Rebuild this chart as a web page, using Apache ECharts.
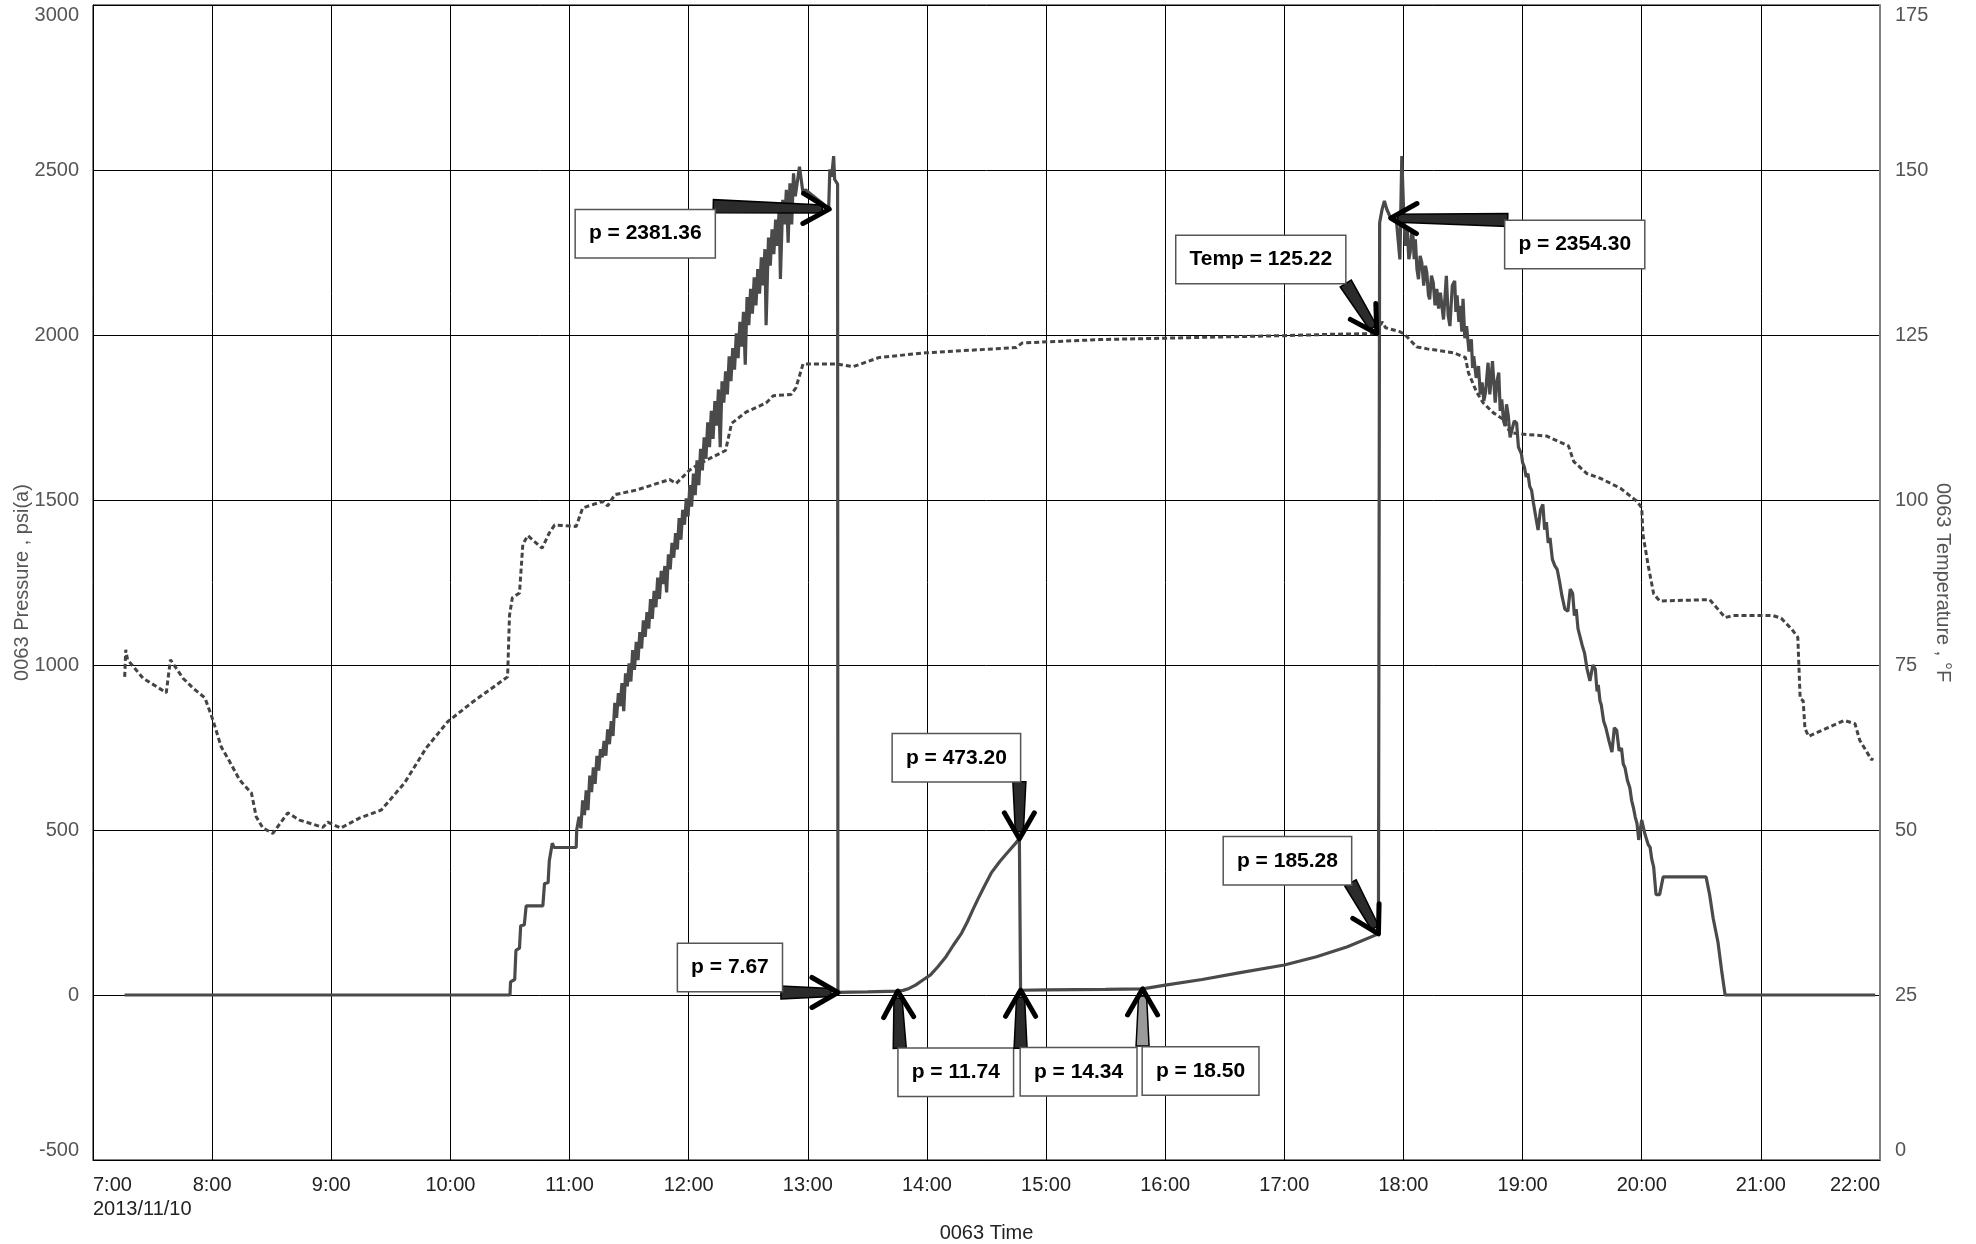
<!DOCTYPE html>
<html>
<head>
<meta charset="utf-8">
<script src="https://cdn.jsdelivr.net/npm/echarts@6/dist/echarts.min.js"></script>
<style>
html,body{margin:0;padding:0;background:#fff;}
#chart{width:1976px;height:1244px;}
</style>
</head>
<body>
<div id="chart"></div>
<script>
// ---------- DATA ----------
const xTickLabels = ['7:00\n2013/11/10','8:00','9:00','10:00','11:00','12:00','13:00','14:00','15:00','16:00','17:00','18:00','19:00','20:00','21:00','22:00'];

// Pressure (psi(a)) : time in decimal hours
const pressureHours = [
  7.265, 8.0, 9.0, 10.0, 10.5, 10.505, 10.54, 10.55, 10.58, 10.59, 10.62, 10.636, 10.776, 10.79, 10.82, 10.83, 10.855, 10.87, 11.056, 11.06,
  11.08, 11.095, 11.11, 11.125, 11.14, 11.155, 11.17, 11.185, 11.20, 11.215, 11.23, 11.245, 11.26, 11.275, 11.29, 11.305, 11.32, 11.335, 11.35, 11.365,
  11.38, 11.395, 11.41, 11.425, 11.44, 11.455, 11.47, 11.485, 11.50, 11.515, 11.53, 11.545, 11.56, 11.575, 11.59, 11.605, 11.62, 11.635, 11.65, 11.665,
  11.68, 11.695, 11.71, 11.725, 11.74, 11.755, 11.77, 11.785, 11.80, 11.815, 11.83, 11.845, 11.86, 11.875, 11.89, 11.905, 11.92, 11.935, 11.95, 11.965,
  11.98, 11.995, 12.01, 12.025, 12.04, 12.055, 12.07, 12.085, 12.10, 12.115, 12.13, 12.145, 12.16, 12.175, 12.19, 12.205, 12.22, 12.235, 12.25, 12.265,
  12.28, 12.295, 12.31, 12.325, 12.34, 12.355, 12.37, 12.385, 12.40, 12.415, 12.43, 12.445, 12.46, 12.475, 12.49, 12.505, 12.52, 12.535, 12.55, 12.565,
  12.58, 12.595, 12.61, 12.625, 12.64, 12.65, 12.67, 12.685, 12.70, 12.715, 12.73, 12.745, 12.76, 12.77, 12.79, 12.805, 12.82, 12.835, 12.85, 12.865,
  12.88, 12.895, 12.93, 12.96, 12.98, 13.05, 13.12, 13.175, 13.185, 13.20, 13.217, 13.225, 13.25, 13.253,
  13.5, 13.755, 13.80, 13.85, 13.904, 13.96, 14.03, 14.09, 14.16, 14.22, 14.29, 14.34, 14.385, 14.43, 14.48, 14.54, 14.61, 14.66, 14.706, 14.74, 14.776,
  14.786, 15.0, 15.5, 15.81, 16.0, 16.31, 16.63, 17.0, 17.27, 17.53, 17.79,
  17.80, 17.82, 17.84, 17.86, 17.893, 17.94, 17.97, 17.986,
  18.0, 18.015, 18.03, 18.045, 18.056, 18.07, 18.08, 18.09, 18.1, 18.113, 18.126, 18.14, 18.154, 18.17, 18.185, 18.196, 18.21, 18.22, 18.235, 18.25,
  18.265, 18.28, 18.295, 18.31, 18.336, 18.36, 18.375, 18.39, 18.41, 18.43, 18.44, 18.45, 18.465, 18.475, 18.49, 18.50, 18.515, 18.53, 18.55, 18.57,
  18.58, 18.59, 18.61, 18.63, 18.645, 18.66, 18.675, 18.69, 18.71, 18.725, 18.747, 18.77, 18.785, 18.8, 18.812, 18.825, 18.84, 18.853, 18.865, 18.88,
  18.895, 18.91, 18.93, 18.95, 18.965, 18.98, 18.99, 19.0, 19.015, 19.03, 19.045, 19.06, 19.075, 19.09, 19.11, 19.13, 19.15, 19.17, 19.185, 19.2,
  19.215, 19.23, 19.25, 19.27, 19.29, 19.31, 19.33, 19.355, 19.38, 19.40, 19.42, 19.435, 19.45, 19.465, 19.48, 19.50, 19.52, 19.54, 19.565, 19.59,
  19.61, 19.625, 19.635, 19.65, 19.66, 19.68, 19.7, 19.725, 19.75, 19.77, 19.79, 19.81, 19.83, 19.845, 19.86, 19.88, 19.9, 19.915, 19.93, 19.945,
  19.96, 19.975, 19.985, 20.0, 20.01, 20.025, 20.04, 20.055, 20.07, 20.085, 20.1, 20.12, 20.15, 20.18,
  20.54, 20.57, 20.6, 20.64, 20.67, 20.70, 21.0, 21.5, 21.96
];
const pressurePsi = [
  0, 0, 0, 0, 0, 40, 47, 135, 142, 210, 212, 270, 270, 338, 340, 406, 460, 447, 447, 500,
  540, 505, 590, 545, 620, 560, 665, 615, 690, 640, 725, 680, 745, 720, 770, 725, 805, 760, 830, 785,
  885, 840, 915, 875, 945, 860, 975, 935, 1005, 950, 1045, 985, 1070, 1015, 1100, 1050, 1135, 1085, 1160, 1110,
  1200, 1140, 1225, 1175, 1265, 1200, 1285, 1245, 1300, 1220, 1335, 1290, 1370, 1325, 1400, 1350, 1445, 1380, 1470, 1425,
  1505, 1450, 1545, 1480, 1580, 1515, 1620, 1545, 1655, 1590, 1690, 1625, 1735, 1660, 1770, 1685, 1800, 1725, 1835, 1660,
  1860, 1795, 1890, 1820, 1935, 1860, 1960, 1895, 2005, 1930, 2040, 1965, 2070, 1910, 2115, 2030, 2140, 2065, 2175, 2090,
  2200, 2125, 2235, 2150, 2260, 2030, 2295, 2210, 2320, 2245, 2350, 2270, 2385, 2170, 2410, 2335, 2440, 2280, 2460, 2335,
  2490, 2420, 2510, 2430, 2440, 2420, 2400, 2381.36, 2502, 2480, 2542, 2472, 2457, 7.67,
  9.5, 11.74, 14, 20, 30, 44, 61, 85, 116, 150, 187, 222, 258, 292, 328, 370, 404, 425, 444, 458, 473.2,
  14.34, 15.5, 17.2, 18.5, 30, 47, 68, 91, 116, 146, 185.28,
  2340, 2380, 2406, 2381, 2354.3, 2350, 2229, 2542,
  2391, 2270, 2330, 2230, 2250, 2320, 2300, 2230, 2290, 2200, 2169, 2240, 2219, 2150, 2210, 2189, 2120, 2108, 2180, 2159,
  2090, 2140, 2080, 2128, 2047, 2179, 2060, 2027, 2150, 2164, 2070, 2120, 2040, 2088, 2010, 2110, 1990, 2027, 1950, 1987,
  1900, 1936, 1870, 1906, 1820, 1856, 1800, 1830, 1916, 1820, 1921, 1795, 1860, 1886, 1770, 1805, 1740, 1724, 1790, 1755,
  1690, 1684, 1740, 1733, 1660, 1654, 1640, 1613, 1600, 1570, 1580, 1541, 1530, 1493, 1450, 1409, 1470, 1487, 1410, 1433,
  1370, 1385, 1320, 1301, 1290, 1253, 1210, 1169, 1163, 1230, 1217, 1150, 1169, 1110, 1108, 1060, 1036, 990, 952, 1000,
  988, 920, 940, 890, 880, 830, 808, 770, 736, 810, 802, 740, 748, 700, 688, 650, 628, 590, 568, 540,
  520, 470, 472, 530, 526, 490, 496, 455, 448, 410, 388, 304, 304, 358,
  358, 304, 232, 160, 76, 0, 0, 0, 0
];

// Temperature (°F)
const tempHours = [
  7.266, 7.275, 7.29, 7.42, 7.615, 7.65, 7.755, 7.84, 7.94, 8.006, 8.076, 8.146, 8.23, 8.33, 8.37, 8.426, 8.51, 8.635, 8.733, 8.93,
  8.97, 9.08, 9.236, 9.418, 9.614, 9.796, 9.977, 10.187, 10.48, 10.496, 10.52, 10.58, 10.608, 10.65, 10.77, 10.83, 10.874, 11.056, 11.11, 11.28,
  11.32, 11.38, 11.56, 11.84, 11.895, 12.007, 12.09, 12.2, 12.31, 12.36, 12.48, 12.65, 12.71, 12.86, 12.9, 12.96, 13.24, 13.38, 13.6, 13.99,
  14.75, 14.8, 15.45, 16.2, 17.0, 17.385, 17.776, 17.82, 17.85, 17.97, 18.01, 18.11, 18.2, 18.42, 18.52, 18.545, 18.615, 18.67, 18.755, 18.84,
  18.895, 18.98, 19.2, 19.385, 19.43, 19.54, 19.65, 19.82, 19.96, 20.0, 20.01, 20.055, 20.1, 20.15, 20.57, 20.70, 20.77, 21.1, 21.17, 21.26,
  21.31, 21.33, 21.355, 21.37, 21.40, 21.70, 21.79, 21.83, 21.93, 21.94
];
const tempF = [
  73.2, 77.3, 75.8, 73.0, 70.8, 75.8, 73.0, 71.5, 70.0, 66.7, 62.6, 60.4, 57.6, 55.6, 52.0, 50.3, 49.5, 52.6, 51.5, 50.4,
  51.2, 50.3, 51.8, 53.0, 57.1, 62.4, 66.4, 69.4, 73.2, 82.5, 85.2, 85.9, 93.3, 94.6, 92.7, 95.0, 96.2, 96.0, 98.8, 99.8,
  99.1, 100.8, 101.5, 103.1, 102.5, 104.5, 105.5, 106.5, 107.5, 111.6, 113.3, 114.7, 115.8, 116.0, 117.0, 120.6, 120.6, 120.2, 121.6, 122.3,
  123.1, 123.8, 124.3, 124.6, 124.9, 125.1, 125.22, 127.0, 126.1, 125.5, 125.1, 123.2, 122.9, 122.3, 121.6, 119.3, 116.3, 114.7, 113.2, 112.2,
  110.2, 110.0, 109.7, 108.2, 105.8, 104.0, 103.3, 101.8, 99.8, 98.8, 94.8, 90.0, 85.8, 84.7, 84.9, 82.2, 82.5, 82.5, 82.1, 80.4,
  79.2, 69.9, 69.6, 65.4, 64.2, 66.6, 66.1, 63.6, 60.6, 60.9
];

// Annotations (callout values)
const pressureNoteLabels = ['p = 2381.36','p = 7.67','p = 11.74','p = 473.20','p = 14.34','p = 18.50','p = 185.28','p = 2354.30'];
const pressureNoteHours  = [13.18, 13.253, 13.755, 14.776, 14.786, 15.81, 17.79, 17.893];
const pressureNotePsi    = [2381.36, 7.67, 11.74, 473.20, 14.34, 18.50, 185.28, 2354.30];
const tempNoteLabels = ['Temp = 125.22'];
const tempNoteHours  = [17.776];
const tempNoteF      = [125.22];

// ---------- LAYOUT / STYLE (pixel offsets of callout boxes & arrow tails from their target) ----------
const pressureNoteLayout = [
  {bx:-184, by: 24.5, ax:-116, ay:-3,  fill:'#2b2b2b'},
  {bx:-108, by:-25,   ax:-57,  ay: 0,  fill:'#2b2b2b'},
  {bx:  58, by: 81,   ax:  2,  ay: 57, fill:'#2b2b2b'},
  {bx: -63, by:-81,   ax:  0,  ay:-57, fill:'#2b2b2b'},
  {bx:  58, by: 81.5, ax:  0,  ay: 58, fill:'#2b2b2b'},
  {bx:  58, by: 82,   ax:  0,  ay: 57, fill:'#9a9a9a'},
  {bx: -91, by:-73,   ax:-28,  ay:-51, fill:'#2b2b2b'},
  {bx: 184, by: 26.5, ax: 117, ay: 2,  fill:'#2b2b2b'}
];
const tempNoteLayout = [
  {bx:-116, by:-74, ax:-31, ay:-50, fill:'#2b2b2b'}
];

const FONT = '"Liberation Sans", Arial, Helvetica, sans-serif';
const zip = (a, b) => a.map((v, i) => [v, b[i]]);

function arrowShapes(sx, sy, tx, ty, fill) {
  const dx = tx - sx, dy = ty - sy, L = Math.hypot(dx, dy);
  const ux = dx / L, uy = dy / L, nx = -uy, ny = ux;
  const w0 = 6.5, w1 = 4;
  const endL = L - 7;
  const ex = sx + ux * endL, ey = sy + uy * endL;
  const shaft = [
    [sx + nx * w0, sy + ny * w0], [ex + nx * w1, ey + ny * w1],
    [ex - nx * w1, ey - ny * w1], [sx - nx * w0, sy - ny * w0]
  ];
  const hl = 26, hw = 15;
  const head = [
    [tx - ux * hl + nx * hw, ty - uy * hl + ny * hw], [tx, ty],
    [tx - ux * hl - nx * hw, ty - uy * hl - ny * hw]
  ];
  return [
    {type:'polygon', shape:{points:shaft}, style:{fill:fill, stroke:'#000', lineWidth:1.5}},
    {type:'polyline', shape:{points:head}, style:{fill:null, stroke:'#000', lineWidth:5, lineJoin:'round', lineCap:'round'}}
  ];
}

function makeRender(labels, layout) {
  return function (params, api) {
    const p = api.coord([api.value(0), api.value(1)]);
    const l = layout[params.dataIndex];
    const children = arrowShapes(p[0] + l.ax, p[1] + l.ay, p[0], p[1], l.fill);
    children.push({
      type:'text',
      style:{
        text: labels[params.dataIndex],
        x: p[0] + l.bx, y: p[1] + l.by,
        align:'center', verticalAlign:'middle',
        font:'bold 21px ' + FONT, fill:'#000',
        backgroundColor:'#fff', borderColor:'#555', borderWidth:1.5,
        padding:[13, 13, 13, 13]
      }
    });
    return {type:'group', children: children};
  };
}

const chart = echarts.init(document.getElementById('chart'), null, {renderer:'canvas'});
chart.setOption({
  animation:false,
  backgroundColor:'#fff',
  textStyle:{fontFamily:FONT},
  grid:{left:93, right:96, top:5, bottom:84, containLabel:false, outerBoundsMode:'none',
        show:true, borderColor:'#000', borderWidth:1},
  xAxis:{
    type:'value', min:7, max:22, interval:1,
    name:'0063 Time', nameLocation:'middle', nameGap:63, nameMoveOverlap:false,
    nameTextStyle:{color:'#222', fontSize:20, fontFamily:FONT},
    axisLine:{show:true, onZero:false, lineStyle:{color:'#000', width:1}},
    axisTick:{show:false},
    axisLabel:{color:'#222', fontSize:20, fontFamily:FONT, margin:13, lineHeight:24,
               alignMinLabel:'left', alignMaxLabel:'right',
               formatter:(v) => xTickLabels[Math.round(v - 7)]},
    splitLine:{show:true, lineStyle:{color:'#000', width:1}}
  },
  yAxis:[{
    type:'value', min:-500, max:3000, interval:500, position:'left',
    name:'0063 Pressure , psi(a)', nameLocation:'middle', nameGap:61, nameRotate:90, nameMoveOverlap:false,
    nameTextStyle:{color:'#555', fontSize:20, fontFamily:FONT},
    axisLine:{show:true, lineStyle:{color:'#000', width:1}},
    axisTick:{show:false},
    axisLabel:{color:'#555', fontSize:20, fontFamily:FONT, margin:14,
               formatter:(v) => String(v),
               verticalAlignMinLabel:'bottom', verticalAlignMaxLabel:'top'},
    splitLine:{show:true, lineStyle:{color:'#000', width:1}}
  },{
    type:'value', min:0, max:175, interval:25, position:'right',
    name:'0063 Temperature , °F', nameLocation:'middle', nameGap:53, nameRotate:-90, nameMoveOverlap:false,
    nameTextStyle:{color:'#555', fontSize:20, fontFamily:FONT},
    axisLine:{show:true, lineStyle:{color:'#808080', width:2}},
    axisTick:{show:false},
    axisLabel:{color:'#555', fontSize:20, fontFamily:FONT, margin:15,
               formatter:(v) => String(v),
               verticalAlignMinLabel:'bottom', verticalAlignMaxLabel:'top'},
    splitLine:{show:false}
  }],
  series:[{
    name:'0063 Temperature', type:'line', yAxisIndex:1,
    data: zip(tempHours, tempF), showSymbol:false, symbol:'none',
    lineStyle:{color:'#444', width:3, type:[5, 3]}, z:3
  },{
    name:'0063 Pressure', type:'line', yAxisIndex:0,
    data: zip(pressureHours, pressurePsi), showSymbol:false, symbol:'none',
    lineStyle:{color:'#4a4a4a', width:3.2}, z:4
  },{
    name:'pressure notes', type:'custom', yAxisIndex:0, z:10, clip:false,
    data: zip(pressureNoteHours, pressureNotePsi),
    renderItem: makeRender(pressureNoteLabels, pressureNoteLayout)
  },{
    name:'temperature notes', type:'custom', yAxisIndex:1, z:10, clip:false,
    data: zip(tempNoteHours, tempNoteF),
    renderItem: makeRender(tempNoteLabels, tempNoteLayout)
  }]
});
</script>
</body>
</html>
